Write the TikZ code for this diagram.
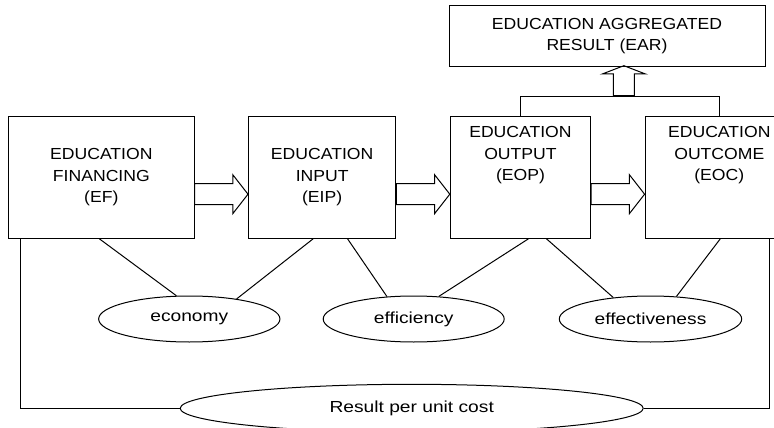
\documentclass[tikz,border=0pt]{standalone}
\usepackage{fontspec}
\setmainfont{Liberation Sans}[FakeStretch=1.1]
\newfontfamily\wideface{Liberation Sans}[FakeStretch=1.2]
\usetikzlibrary{positioning,shapes.geometric,shapes.arrows,calc}

\begin{document}
\begin{tikzpicture}[x=1pt, y=-1pt, font=\fontsize{16}{21.5}\selectfont, line width=1pt,
      blk/.style={draw, minimum height=121.6pt, inner sep=0pt, align=center},
      ovl/.style={draw, ellipse, minimum height=46pt, inner sep=0pt, font=\fontsize{16}{21.5}\wideface},
      fat/.style={draw, single arrow, anchor=tail, inner sep=10pt, minimum height=53.5pt,
                  single arrow head extend=9pt, single arrow tip angle=104},
      toptext/.style={anchor=north, yshift=-10pt, inner sep=0pt, align=center}]
  \useasboundingbox (0,0) rectangle (774,428);
  \clip (0,0) rectangle (774,428);
  % stages
  \node[blk, minimum width=185.3pt] (ef) at (101.35,177.5) {EDUCATION\\FINANCING\\(EF)};
  \node[blk, minimum width=147.3pt, right=53.5pt of ef] (eip) {EDUCATION\\INPUT\\(EIP)};
  \node[blk, minimum width=140.3pt, right=53.5pt of eip,
        label={[toptext]north:EDUCATION\\OUTPUT\\(EOP)}] (eop) {};
  \node[blk, minimum width=148.4pt, right=53.5pt of eop,
        label={[toptext]north:EDUCATION\\OUTCOME\\(EOC)}] (eoc) {};
  \node[draw, minimum width=316pt, minimum height=61pt, align=center] (ear) at (607,36.2)
        {EDUCATION AGGREGATED\\RESULT (EAR)};
  % block arrows
  \node[fat] (f1) at ($(ef.east)+(-0.5,16.7)$) {};
  \node[fat] (f2) at ($(eip.east)+(-0.5,16.7)$) {};
  \node[fat] (f3) at ($(eop.east)+(-0.5,16.7)$) {};
  \coordinate (join) at ($(eop.north)!0.5!(eoc.north)+(4,-20)$);
  \draw (eop.north) -- ++(0,-20) -| (eoc.north);
  \node[fat, shape border rotate=90, minimum height=30pt, single arrow head extend=11pt,
        single arrow tip angle=138] (f4) at (join) {};
  % measures
  \node[ovl, minimum width=181.3pt] (econ) at (189.3,319) {economy};
  \node[ovl, minimum width=181pt] (eff) at (413.7,319) {efficiency};
  \node[ovl, minimum width=182.4pt] (effv) at (650.5,319) {effectiveness};
  \node[ovl, minimum width=463pt, minimum height=48pt] (rpuc) at (411.7,408.3) {Result per unit cost};
  \draw ([xshift=-2pt]ef.south) -- (econ.119);
  \draw ([xshift=-9pt]eip.south) -- (econ.23);
  \draw ([xshift=25.4pt]eip.south) -- (eff.140);
  \draw ([xshift=8pt]eop.south) -- (eff.42);
  \draw ([xshift=26pt]eop.south) -- (effv.150);
  \draw ([xshift=1pt]eoc.south) -- (effv.41);
  \draw ([xshift=12.6pt]ef.south west) |- (rpuc.west);
  \draw ([xshift=125.2pt]eoc.south west) |- (rpuc.east);
\end{tikzpicture}
\end{document}
